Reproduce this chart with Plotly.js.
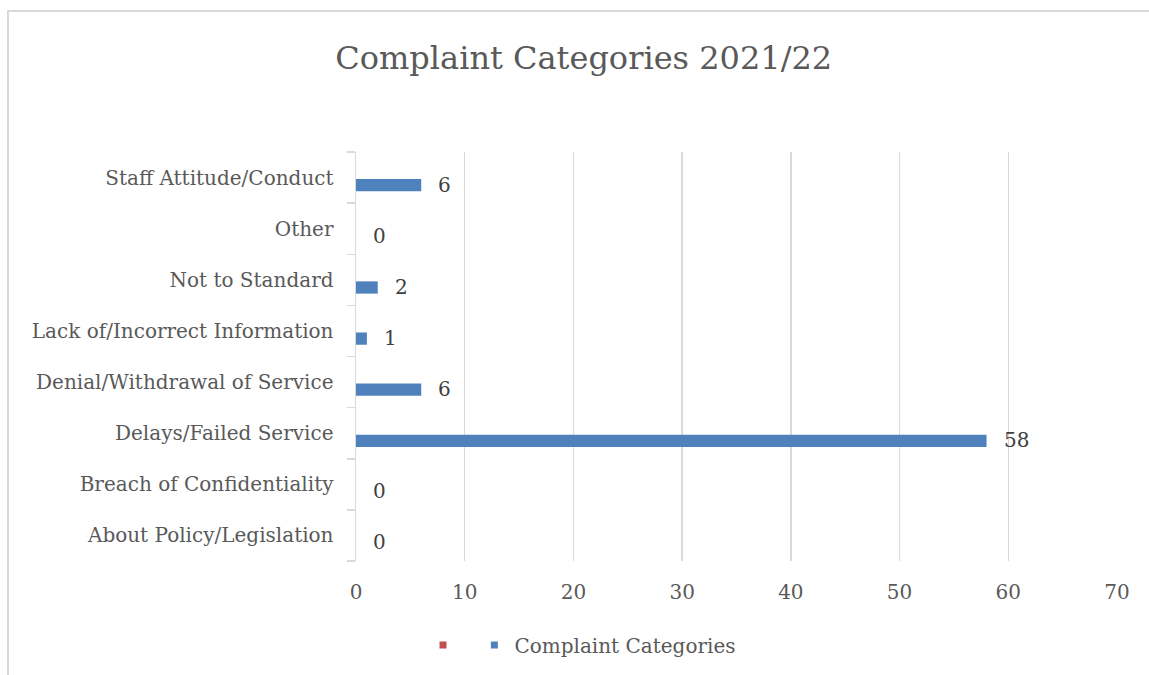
<!DOCTYPE html>
<html>
<head>
<meta charset="utf-8">
<script src="https://cdn.plot.ly/plotly-3.0.1.min.js"></script>
<style>
  html, body { margin: 0; padding: 0; background: #ffffff; }
  #frame { position: absolute; left: 7px; top: 10px; width: 1142px; height: 665px; border-left: 2px solid #d9d9d9; border-top: 2px solid #d9d9d9; box-sizing: border-box; }
  #chart { position: absolute; left: 0; top: 0; width: 1149px; height: 675px; }
</style>
</head>
<body>
<div id="frame"></div>
<div id="chart"></div>
<script>
const categories = [
  "About Policy/Legislation",
  "Breach of Confidentiality",
  "Delays/Failed Service",
  "Denial/Withdrawal of Service",
  "Lack of/Incorrect Information",
  "Not to Standard",
  "Other",
  "Staff Attitude/Conduct"
];
const complaintCounts = [0, 0, 58, 6, 1, 2, 0, 6];
const xTickValues = [0, 10, 20, 30, 40, 50, 60, 70];
const chartTitle = "Complaint Categories 2021/22";
const seriesName = "Complaint Categories";

const FONT = "'DejaVu Serif', serif";
const GREY = "#595959";
const BLUE = "#4f81bd";
const RED = "#c0504d";

const traces = [
  {
    type: "bar",
    orientation: "h",
    y: categories,
    x: complaintCounts,
    marker: { color: BLUE },
    width: 0.24,
    offset: -0.27,
    showlegend: false,
    hoverinfo: "x+y"
  },
  {
    type: "scatter",
    mode: "markers",
    x: [null],
    y: [null],
    name: " ",
    marker: { symbol: "square", size: 7, color: RED },
    showlegend: true
  },
  {
    type: "scatter",
    mode: "markers",
    x: [null],
    y: [null],
    name: seriesName,
    marker: { symbol: "square", size: 7, color: BLUE },
    showlegend: true
  }
];

const annotations = categories.map((c, i) => ({
  x: complaintCounts[i],
  y: c,
  xref: "x",
  yref: "y",
  text: String(complaintCounts[i]),
  showarrow: false,
  xanchor: "left",
  yanchor: "middle",
  xshift: 15,
  yshift: -7,
  font: { family: FONT, size: 20, color: "#404040" }
}));

const layout = {
  width: 1149,
  height: 675,
  paper_bgcolor: "rgba(0,0,0,0)",
  plot_bgcolor: "rgba(0,0,0,0)",
  margin: { l: 356, r: 32, t: 152, b: 113 },
  title: {
    text: chartTitle,
    x: 0.508,
    xanchor: "center",
    y: 0.915,
    yanchor: "middle",
    font: { family: FONT, size: 32, color: GREY }
  },
  xaxis: {
    range: [0, 70],
    tickvals: xTickValues,
    showgrid: true,
    gridcolor: "#d9d9d9",
    gridwidth: 1.5,
    zeroline: false,
    showline: false,
    ticks: "",
    ticklabelstandoff: 17,
    tickfont: { family: FONT, size: 20, color: GREY },
    fixedrange: true
  },
  yaxis: {
    type: "category",
    categoryorder: "array",
    categoryarray: categories,
    showline: true,
    linecolor: "#d9d9d9",
    linewidth: 1.5,
    showgrid: false,
    zeroline: false,
    ticks: "outside",
    tickson: "boundaries",
    ticklen: 8,
    tickcolor: "#d9d9d9",
    tickwidth: 1.5,
    ticklabelstandoff: 17,
    tickfont: { family: FONT, size: 20, color: GREY },
    fixedrange: true
  },
  legend: {
    orientation: "h",
    x: 0.297,
    xanchor: "center",
    y: -0.2025,
    yanchor: "middle",
    font: { family: FONT, size: 20, color: GREY },
    itemwidth: 30,
    bgcolor: "rgba(0,0,0,0)"
  },
  annotations: annotations,
  showlegend: true
};

Plotly.newPlot("chart", traces, layout, { displayModeBar: false, staticPlot: true });
</script>
</body>
</html>
